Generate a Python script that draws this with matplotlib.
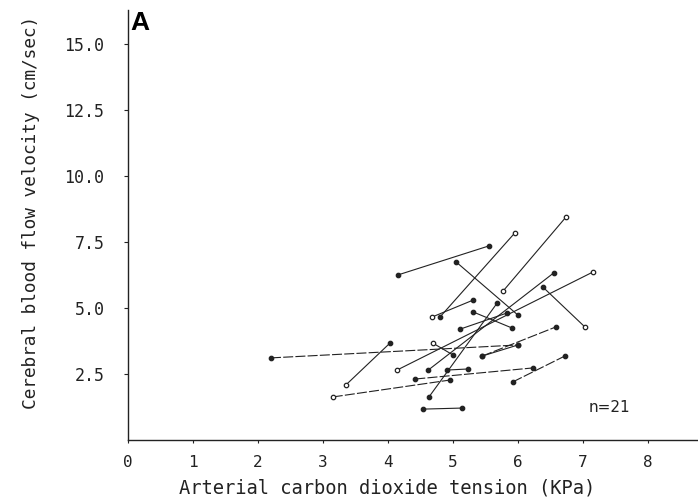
import matplotlib
matplotlib.use("Agg")
import matplotlib.pyplot as plt

# paired measurements: (PaCO2, CBFV) at start and end of each subject line
pco2_start = [2.20, 3.35, 3.15, 4.42, 4.54, 4.63, 5.92, 5.45, 4.91, 4.15, 4.80,
              5.77, 5.05, 4.62, 4.14, 6.38, 4.68, 5.31, 4.69, 5.11, 5.45]
pco2_end = [6.00, 4.03, 4.95, 6.23, 5.14, 5.68, 6.72, 6.58, 5.23, 5.55, 5.95,
            6.74, 6.00, 6.55, 7.15, 7.03, 5.31, 5.91, 5.00, 5.83, 6.00]
cbfv_start = [3.11, 2.08, 1.63, 2.31, 1.17, 1.63, 2.20, 3.18, 2.65, 6.25, 4.66,
              5.64, 6.74, 2.65, 2.65, 5.80, 4.66, 4.85, 3.67, 4.20, 3.18]
cbfv_end = [3.60, 3.67, 2.27, 2.73, 1.21, 5.19, 3.18, 4.28, 2.69, 7.35, 7.84,
            8.45, 4.73, 6.33, 6.36, 4.28, 5.30, 4.24, 3.22, 4.81, 3.60]

x_ticks = [0, 1, 2, 3, 4, 5, 6, 7, 8]
y_ticks = [2.5, 5.0, 7.5, 10.0, 12.5, 15.0]
y_tick_labels = ["2.5", "5.0", "7.5", "10.0", "12.5", "15.0"]

# segments drawn with a broken (dashed) look in the scan, and open markers
dashed = {0, 2, 3, 6, 7}
open_start = {1, 2, 14, 16, 18, 11}
open_end = {10, 11, 14, 15}

ink = "#222222"
mono = "DejaVu Sans Mono"

fig = plt.figure(figsize=(6.98, 5.0), dpi=100)
ax = fig.add_axes([128 / 698, 60 / 500, 570 / 698, 430 / 500])

for i in range(len(pco2_start)):
    ls = (0, (9, 2)) if i in dashed else "-"
    ax.plot([pco2_start[i], pco2_end[i]], [cbfv_start[i], cbfv_end[i]],
            color=ink, lw=0.8, ls=ls, zorder=2)
    ax.plot(pco2_start[i], cbfv_start[i], "o", ms=3.2, mew=0.9, mec=ink,
            mfc="white" if i in open_start else ink, zorder=3)
    ax.plot(pco2_end[i], cbfv_end[i], "o", ms=3.2, mew=0.9, mec=ink,
            mfc="white" if i in open_end else ink, zorder=3)

ax.set_xlim(0, 570 / 65)
ax.set_ylim(0, 430 / 26.4)

ax.spines["top"].set_visible(False)
ax.spines["right"].set_visible(False)
ax.spines["left"].set_color(ink)
ax.spines["bottom"].set_color(ink)
ax.spines["left"].set_linewidth(1.0)
ax.spines["bottom"].set_linewidth(1.0)

ax.set_xticks(x_ticks)
ax.set_xticklabels([str(t) for t in x_ticks], fontfamily=mono, fontsize=11.5, color=ink)
ax.set_yticks(y_ticks)
ax.set_yticklabels(y_tick_labels, fontfamily=mono, fontsize=12, color=ink)
ax.tick_params(axis="x", length=2, width=0.8, pad=9, color=ink)
ax.tick_params(axis="y", length=3, width=0.8, pad=14, color=ink)

ax.set_xlabel("Arterial carbon dioxide tension (KPa)", fontfamily=mono,
              fontsize=13.5, color=ink)
ax.xaxis.set_label_coords((387 - 128) / 570, -38 / 430)
ax.set_ylabel("Cerebral blood flow velocity (cm/sec)", fontfamily=mono,
              fontsize=12.8, color=ink)
ax.yaxis.set_label_coords(-88 / 570, (440 - 212) / 430)

ax.text(589 / 698, (500 - 408) / 500, "n=21", transform=fig.transFigure,
        fontfamily="DejaVu Sans", fontsize=11, color=ink, ha="left", va="center")
fig.text(130 / 698, (500 - 23) / 500, "A", fontfamily="Liberation Sans",
         fontweight="bold", fontsize=19, color="black", ha="left", va="center")

fig.savefig("out.png", dpi=100, facecolor="white")
